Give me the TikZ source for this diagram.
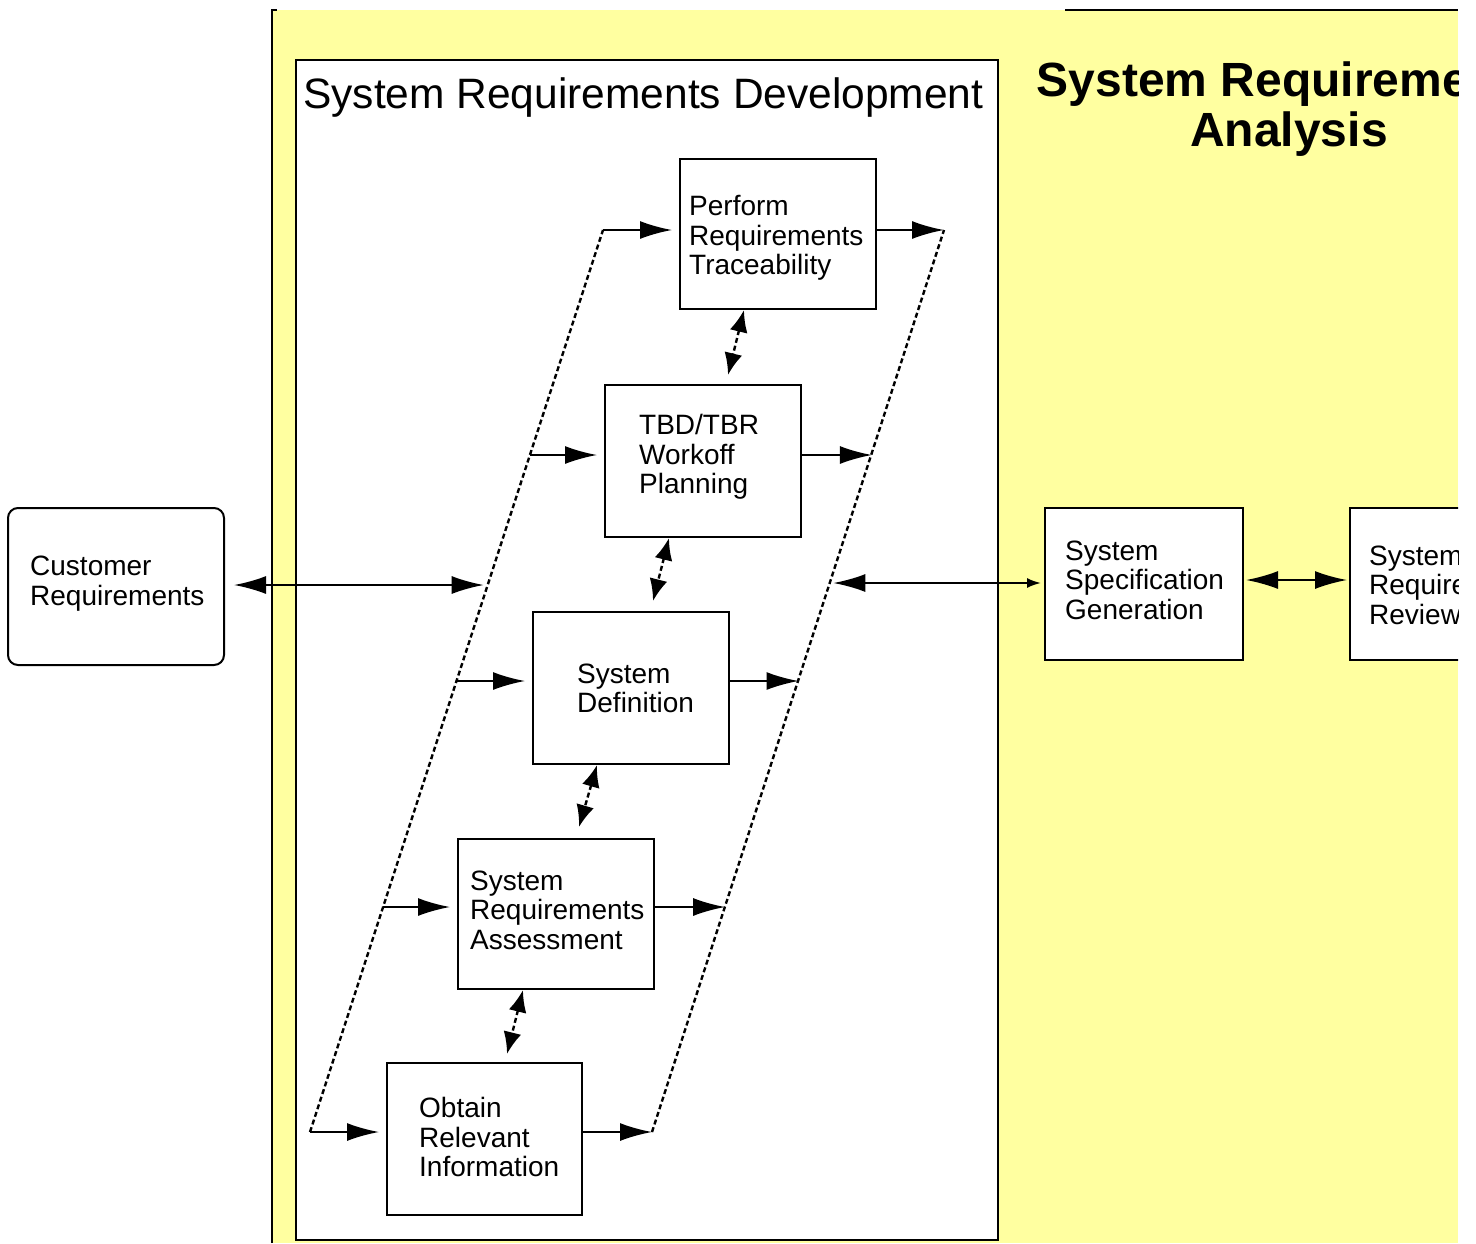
\documentclass[tikz,border=0pt]{standalone}
\usepackage{fontspec}
\setmainfont{Liberation Sans}
\usetikzlibrary{arrows.meta,calc}
\definecolor{panelyellow}{RGB}{255,255,160}
\tikzset{
  bighead/.tip={Latex[length=32pt,width=18pt]},
  midhead/.tip={Latex[length=22pt,width=18pt]},
  smallhead/.tip={Latex[length=14pt,width=10pt]},
}
\begin{document}
\begin{tikzpicture}[x=1pt,y=-1pt,
  box/.style={draw,line width=2pt,fill=white,inner sep=0pt},
  lbl/.style={inner sep=0pt,anchor=west,align=left,font=\fontsize{28}{29.5}\selectfont},
  rail/.style={line width=2.4pt,dash pattern=on 5pt off 3pt},
  link/.style={line width=2pt},
  pairlink/.style={line width=2.4pt,dash pattern=on 5pt off 3pt,midhead-midhead},
]
\useasboundingbox (0,0) rectangle (1476,1243);
\begin{scope}
\clip (0,0) rectangle (1458,1243);

% yellow analysis panel
\fill[panelyellow] (272,10) rectangle (1458,1243);
\draw[line width=2pt] (272,1243) -- (272,10) -- (277,10);
\draw[line width=2pt] (1065,10) -- (1458,10);

% panel heading
\node[align=center,inner sep=0pt,font=\bfseries\fontsize{48}{50}\selectfont] (sra) at (1289,109)
  {System Requirements\\Analysis};

% development frame
\node[box,minimum width=702,minimum height=1180] (srd) at (647,650) {};
\node[inner sep=0pt,anchor=west,font=\fontsize{42.5}{44}\selectfont] (srdt) at (303,98)
  {System Requirements Development};

% process boxes
\node[box,minimum width=196,minimum height=150] (n1) at (778,234) {};
\node[box,minimum width=196,minimum height=152] (n2) at (703,461) {};
\node[box,minimum width=196,minimum height=152] (n3) at (631,688) {};
\node[box,minimum width=196,minimum height=150] (n4) at (556,914) {};
\node[box,minimum width=195,minimum height=152] (n5) at (484.5,1139) {};
\node[box,minimum width=198,minimum height=152] (ssg) at (1144,584) {};
\node[box,minimum width=198,minimum height=152] (srr) at (1449,584) {};
\node[box,rounded corners=10pt,minimum width=216,minimum height=157] (cust) at (116,586.5) {};

\node[lbl] (t1) at (689,238) {Perform\\Requirements\\Traceability};
\node[lbl] (t2) at (639,457) {TBD/TBR\\Workoff\\Planning};
\node[lbl] (t3) at (577,688.5) {System\\Definition};
\node[lbl] (t4) at (470,910) {System\\Requirements\\Assessment};
\node[lbl] (t5) at (419,1137) {Obtain\\Relevant\\Information};
\node[lbl] (tssg) at (1065,580) {System\\Specification\\Generation};
\node[lbl] (tsrr) at (1369,585) {System\\Requirements\\Review};
\node[lbl] (tcust) at (30,583.5) {Customer\\Requirements};

% dashed rails
\coordinate (LT) at (603,230);
\coordinate (LB) at (310,1132);
\coordinate (RT) at (944,230);
\coordinate (RB) at (652,1132);
\coordinate (L2) at (529.9,455);
\coordinate (L3) at (456.5,681);
\coordinate (L4) at (383.1,907);
\coordinate (R2) at (871.9,455);
\coordinate (R3) at (798.5,681);
\coordinate (R4) at (725.1,907);
\coordinate (LC) at (487.7,585);
\coordinate (RC) at (830.3,583);
\draw[rail] (LB) -- (LT);
\draw[rail] (RB) -- (RT);

% inputs from the left rail
\draw[link,-bighead,shorten >=7pt] (LT) -- (LT -| n1.west);
\draw[link,-bighead,shorten >=7pt] (L2) -- (L2 -| n2.west);
\draw[link,-bighead,shorten >=7pt] (L3) -- (L3 -| n3.west);
\draw[link,-bighead,shorten >=7pt] (L4) -- (L4 -| n4.west);
\draw[link,-bighead,shorten >=7pt] (LB) -- (LB -| n5.west);

% outputs to the right rail
\draw[link,-bighead] (n1.east |- RT) -- (RT);
\draw[link,-bighead] (n2.east |- R2) -- (R2);
\draw[link,-bighead] (n3.east |- R3) -- (R3);
\draw[link,-bighead] (n4.east |- R4) -- (R4);
\draw[link,-bighead] (n5.east |- RB) -- (RB);

% exchanges between neighbouring boxes
\draw[pairlink] ([xshift=-34pt]n1.south) -- ([xshift=25pt,yshift=9pt]n2.north);
\draw[pairlink] ([xshift=-34pt]n2.south) -- ([xshift=22pt,yshift=10pt]n3.north);
\draw[pairlink] ([xshift=-34pt]n3.south) -- ([xshift=23pt,yshift=11pt]n4.north);
\draw[pairlink] ([xshift=-33pt]n4.south) -- ([xshift=22.5pt,yshift=8pt]n5.north);

% external links
\draw[link,bighead-bighead,shorten <=9pt,shorten >=4pt] (cust.east |- LC) -- (LC);
\draw[link,bighead-smallhead,shorten <=3pt,shorten >=3pt] (RC) -- (RC -| ssg.west);
\draw[link,bighead-bighead,shorten <=2pt,shorten >=2pt] ([yshift=4pt]ssg.east) -- ([yshift=4pt]srr.west);
\end{scope}
\end{tikzpicture}
\end{document}
